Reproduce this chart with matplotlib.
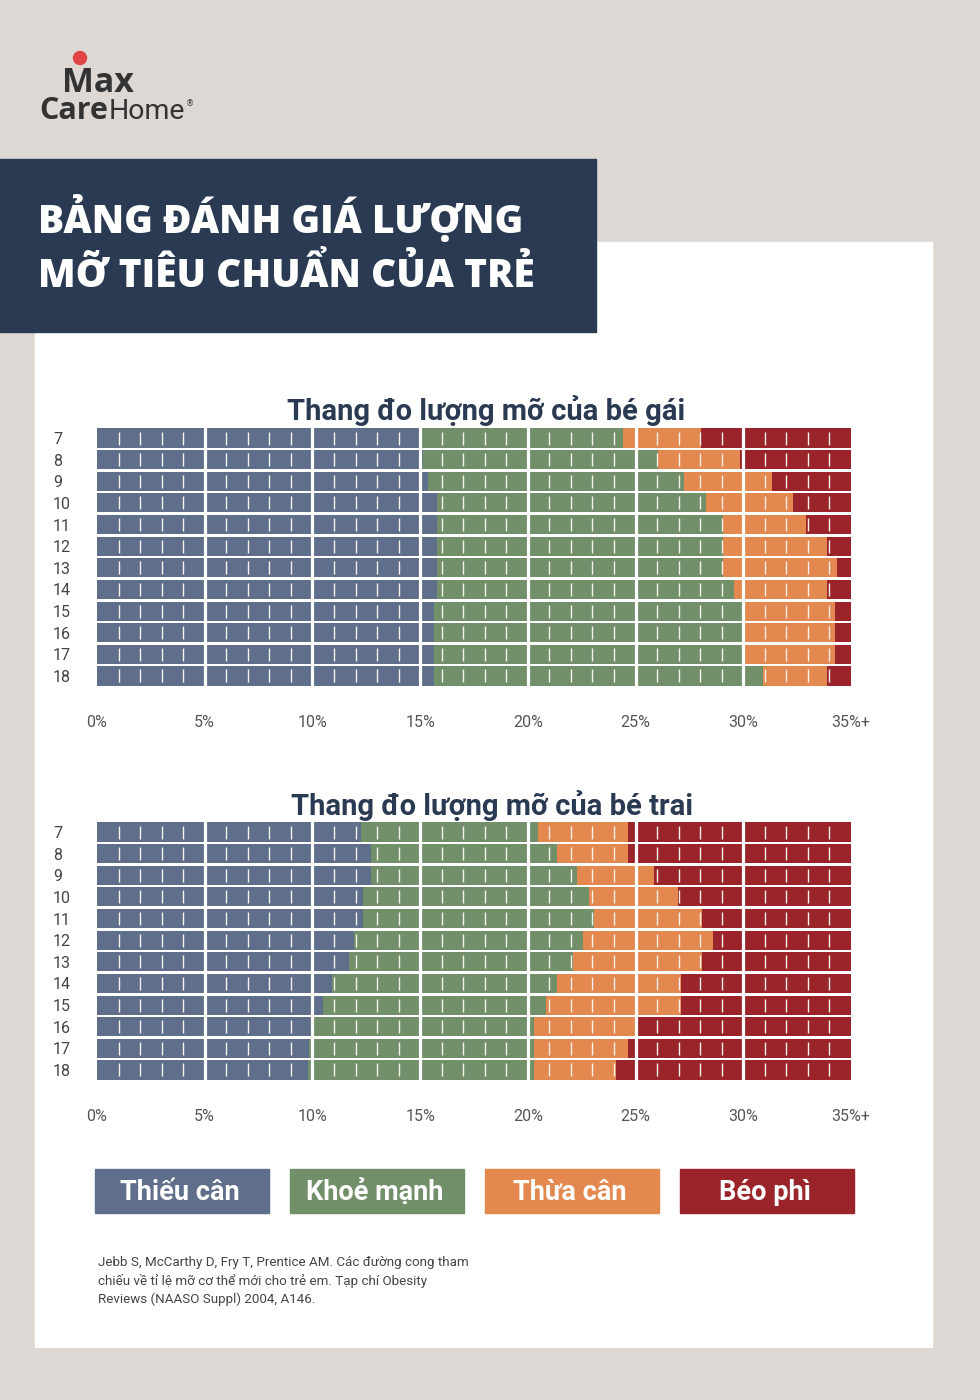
import numpy as np
import matplotlib
matplotlib.use("Agg")
import matplotlib.pyplot as plt
from matplotlib.patches import Rectangle, Ellipse

# ---------------- data ----------------
ages = [7, 8, 9, 10, 11, 12, 13, 14, 15, 16, 17, 18]
x_ticks = [0, 5, 10, 15, 20, 25, 30, 35]
x_tick_labels = ["0%", "5%", "10%", "15%", "20%", "25%", "30%", "35%+"]
categories = ["Thiếu cân", "Khoẻ mạnh", "Thừa cân", "Béo phì"]
scale_max = 35

# upper cut-offs (% body fat) of each class, per age
girls_under_end   = [15.0, 15.15, 15.35, 15.8, 15.8, 15.8, 15.8, 15.8, 15.65, 15.65, 15.65, 15.65]
girls_healthy_end = [24.4, 26.05, 27.25, 28.25, 29.05, 29.05, 29.05, 29.55, 30.0, 30.0, 30.0, 30.9]
girls_over_end    = [28.05, 29.85, 31.35, 32.3, 32.9, 33.9, 34.35, 33.9, 34.25, 34.25, 34.25, 33.9]

boys_under_end   = [12.25, 12.7, 12.7, 12.35, 12.35, 11.95, 11.7, 10.9, 10.5, 9.95, 9.85, 9.8]
boys_healthy_end = [20.45, 21.35, 22.3, 22.85, 23.05, 22.55, 22.1, 21.35, 20.85, 20.3, 20.3, 20.3]
boys_over_end    = [24.65, 24.65, 25.85, 26.95, 28.1, 28.6, 28.1, 27.1, 27.1, 25.0, 24.65, 24.1]

title_lines = ["BẢNG ĐÁNH GIÁ LƯỢNG", "MỠ TIÊU CHUẨN CỦA TRẺ"]
girls_title = "Thang đo lượng mỡ của bé gái"
boys_title = "Thang đo lượng mỡ của bé trai"
footnote = ["Jebb S, McCarthy D, Fry T, Prentice AM. Các đường cong tham",
            "chiếu về tỉ lệ mỡ cơ thể mới cho trẻ em. Tạp chí Obesity",
            "Reviews (NAASO Suppl) 2004, A146."]

# ---------------- style ----------------
colors = ["#5F6F8B", "#71906A", "#E3884E", "#9B242B"]
navy = "#2A3A52"
bg = "#DDD8D3"
F_MAIN = ["Roboto", "DejaVu Sans"]
F_TITLE = ["Open Sans", "DejaVu Sans"]

W, H = 980, 1400
def fx(x): return x / W
def fy(y): return 1 - y / H

fig = plt.figure(figsize=(W / 100, H / 100), dpi=100, facecolor=bg)

# white panel and navy header
fig.patches.append(Rectangle((fx(35), fy(1347)), (932 - 35) / W, (1347 - 242) / H,
                             transform=fig.transFigure, color="white", zorder=-2))
fig.patches.append(Rectangle((0, fy(332)), 596 / W, (332 - 159) / H,
                             transform=fig.transFigure, color=navy, zorder=-1))
for i, line in enumerate(title_lines):
    fig.text(fx(38), fy(233 + 54 * i), line, color="white", fontsize=28,
             fontweight=800, family=F_TITLE, va="baseline", ha="left")

# logo
fig.patches.append(Ellipse((fx(80), fy(58)), 13 / W, 13 / H, transform=fig.transFigure,
                           color="#E04444", zorder=2))
fig.text(fx(62), fy(92), "Max", fontsize=24.5, fontweight="bold", color="#333333",
         family=["Open Sans", "DejaVu Sans"], va="baseline")
t_care = fig.text(fx(39), fy(119), "Care", fontsize=22, fontweight="bold", color="#333333",
                  family=["Open Sans", "DejaVu Sans"], va="baseline")
renderer = fig.canvas.get_renderer()
bb = t_care.get_window_extent(renderer)
t_home = fig.text(bb.x1 / W + 0.001, fy(119), "Home", fontsize=20.5, color="#333333",
                  family=["Roboto", "DejaVu Sans"], va="baseline")
bb2 = t_home.get_window_extent(renderer)
fig.text(bb2.x1 / W + 0.001, fy(106), "®", fontsize=6, color="#333333", va="baseline")


def draw(ax, under, healthy, over):
    n = len(ages)
    y = np.arange(n)
    bounds = np.column_stack([np.zeros(n), under, healthy, over, np.full(n, scale_max)])
    lefts = bounds[:, :-1]
    widths = np.diff(bounds, axis=1)
    for k in range(4):
        ax.barh(y, widths[:, k], left=lefts[:, k], height=0.88, color=colors[k],
                linewidth=0, zorder=2)
    # small white ticks every 1%
    minor = [v for v in range(1, scale_max) if v % 5]
    for yi in y:
        ax.vlines(minor, yi - 0.3, yi + 0.3, color="#F6F3EA", lw=1.0, zorder=3)
    # white gaps every 5%
    for xv in range(5, scale_max, 5):
        ax.axvline(xv, color="white", lw=2.3, zorder=4)
    ax.set_xlim(0, scale_max)
    ax.set_ylim(n - 0.5, -0.5)
    ax.set_xticks(x_ticks, labels=x_tick_labels)
    ax.set_yticks(y, labels=[str(a) for a in ages])
    ax.tick_params(axis="x", length=0, pad=20, labelsize=11.5, labelcolor="#555555")
    ax.tick_params(axis="y", length=0, pad=31.7, labelsize=11.5, labelcolor="#444444")
    for lab in ax.get_yticklabels():
        lab.set_ha("left")
        lab.set_family(F_MAIN)
    for lab in ax.get_xticklabels():
        lab.set_family(F_MAIN)
    for s in ax.spines.values():
        s.set_visible(False)
    ax.set_facecolor("none")


ax_g = fig.add_axes([fx(97), fy(686.8), 754 / W, 259.6 / H], zorder=5)
draw(ax_g, girls_under_end, girls_healthy_end, girls_over_end)
ax_b = fig.add_axes([fx(97), fy(1080.8), 754 / W, 259.6 / H], zorder=5)
draw(ax_b, boys_under_end, boys_healthy_end, boys_over_end)

fig.text(fx(486), fy(420), girls_title, ha="center", va="baseline", fontsize=21,
         fontweight="bold", color=navy, family=F_MAIN)
fig.text(fx(492), fy(815), boys_title, ha="center", va="baseline", fontsize=21,
         fontweight="bold", color=navy, family=F_MAIN)

# legend boxes
box_x = [95, 290, 485, 680]
for x0, lab, c in zip(box_x, categories, colors):
    fig.patches.append(Rectangle((fx(x0), fy(1213)), 174 / W, 44 / H,
                                 transform=fig.transFigure, color=c, zorder=2))
    fig.text(fx(x0 + 85), fy(1200), lab, ha="center", va="baseline", fontsize=19.5,
             fontweight="bold", color="white", family=F_MAIN, zorder=3)

for i, line in enumerate(footnote):
    fig.text(fx(98), fy(1266 + 18.5 * i), line, ha="left", va="baseline", fontsize=9.6,
             color="#444444", family=F_MAIN)

fig.savefig("out.png", dpi=100, facecolor=bg)
